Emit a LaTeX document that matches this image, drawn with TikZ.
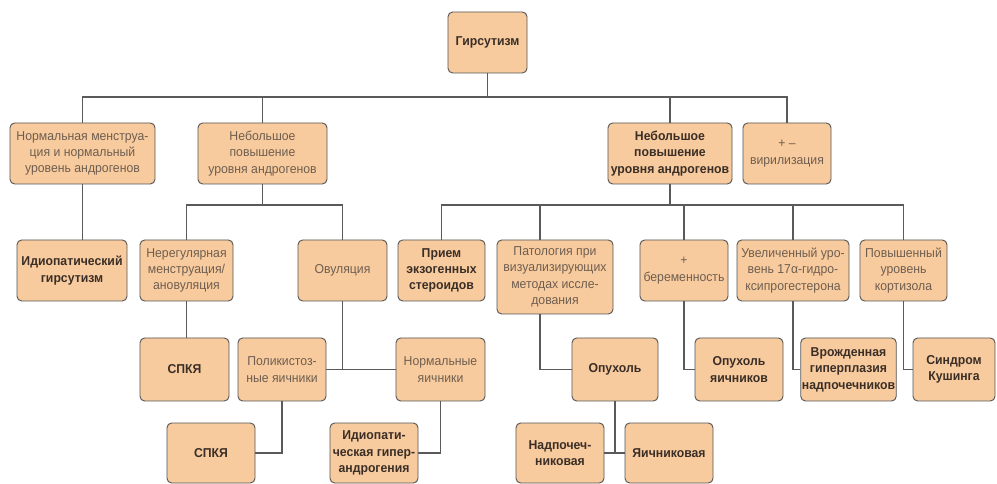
\documentclass[tikz,border=0pt]{standalone}
\usepackage{fontspec}
\setmainfont[FakeStretch=0.95]{Liberation Sans}
\usepackage{xcolor}
\usetikzlibrary{positioning}

\definecolor{boxfill}{HTML}{F8CB9E}
\definecolor{boxline}{HTML}{555555}
\definecolor{linkline}{HTML}{5A5A5A}
\definecolor{textsoft}{HTML}{6E5E50}
\definecolor{texthard}{HTML}{3A2E26}

\begin{document}
\begin{tikzpicture}[
  x=0.03cm, y=-0.03cm,
  crit/.style 2 args={rectangle, draw=boxline, line width=0.8pt, rounded corners=4pt,
    fill=boxfill, align=center, inner sep=1pt, text=textsoft,
    font=\fontsize{11}{14}\selectfont,
    minimum width=#1*0.03cm, minimum height=#2*0.03cm},
  diag/.style 2 args={crit={#1}{#2}, text=texthard,
    font=\fontsize{11}{14}\selectfont\bfseries},
  link/.style={draw=linkline, line width=1.3pt}
]
  \useasboundingbox (0,0) rectangle (997,484);

  \node[diag={79}{61}] (root) at (487.5,42.5) {Гирсутизм};

  \node[crit={145}{61}] (norma) at (82.5,153.5) {Нормальная менструа-\\ция и нормальный\\уровень андрогенов};
  \node[crit={129}{61}] (lowup) at (262.5,153.5) {Небольшое\\повышение\\уровня андрогенов};
  \node[diag={124}{61}] (highup) at (670,153.5) {Небольшое\\повышение\\уровня андрогенов};
  \node[crit={88}{61}] (viril) at (787,153.5) {+ –\\вирилизация};

  \node[diag={110}{61}] (idhirs) at (72,270.5) {Идиопатический\\гирсутизм};
  \node[crit={93}{61}] (anov) at (186.5,270.5) {Нерегулярная\\менструация/\\ановуляция};
  \node[crit={89}{61}] (ovul) at (342.5,270.5) {Овуляция};
  \node[diag={87}{61}] (steroid) at (441.5,270.5) {Прием\\экзогенных\\стероидов};
  \node[crit={116}{74}] (imaging) at (555,277) {Патология при\\визуализирующих\\методах иссле-\\дования};
  \node[crit={88}{61}] (pregn) at (684,270.5) {+\\беременность};
  \node[crit={112}{61}] (ohp) at (793,270.5) {Увеличенный уро-\\вень 17α-гидро-\\ксипрогестерона};
  \node[crit={87}{61}] (cortis) at (903.5,270.5) {Повышенный\\уровень\\кортизола};

  \node[diag={89}{63}] (pcos1) at (184.5,369.5) {СПКЯ};
  \node[crit={88}{63}] (polyov) at (282,369.5) {Поликистоз-\\ные яичники};
  \node[crit={89}{63}] (normov) at (440.5,369.5) {Нормальные\\яичники};
  \node[diag={86}{63}] (tumor) at (615,369.5) {Опухоль};
  \node[diag={88}{63}] (ovtumor) at (739,369.5) {Опухоль\\яичников};
  \node[diag={93}{63}] (cah) at (848.5,369.5) {Врожденная\\гиперплазия\\надпочечников};
  \node[diag={82}{63}] (cushing) at (954,369.5) {Синдром\\Кушинга};

  \node[diag={88}{60}] (pcos2) at (211,453) {СПКЯ};
  \node[diag={88}{60}] (idhyper) at (374,453) {Идиопати-\\ческая гипер-\\андрогения};
  \node[diag={88}{60}] (adrenal) at (560,453) {Надпочеч-\\никовая};
  \node[diag={88}{60}] (ovarian) at (669,453) {Яичниковая};

  \coordinate (bus0) at (487.5,97);
  \coordinate (bus1) at (262.5,205);
  \coordinate (bus2) at (670,205);
  \coordinate (bus2a) at (540,205);

  \draw[link] (root.south) -- (bus0);
  \draw[link] (norma.north) |- (bus0) -| (viril.north);
  \draw[link] (lowup.north) -- (lowup.north |- bus0);
  \draw[link] (highup.north) -- (highup.north |- bus0);

  \draw[link] (norma.south) -- (norma.south |- idhirs.north);
  \draw[link] (lowup.south) -- (bus1);
  \draw[link] (anov.north) |- (bus1) -| (ovul.north);

  \draw[link] (highup.south) -- (bus2);
  \draw[link] (steroid.north) |- (bus2) -| (cortis.north);
  \draw[link] (bus2a) -- (bus2a |- imaging.north);
  \draw[link] (pregn.north) -- (pregn.north |- bus2);
  \draw[link] (ohp.north) -- (ohp.north |- bus2);

  \draw[link] (anov.south) -- (anov.south |- pcos1.north);
  \draw[link] (ovul.south) -- (ovul.south |- polyov.east);
  \draw[link] (polyov.east) -- (normov.west);
  \draw[link] (bus2a |- imaging.south) |- (tumor.west);
  \draw[link] (pregn.south) |- (ovtumor.west);
  \draw[link] (ohp.south) |- (cah.west);
  \draw[link] (cortis.south) |- (cushing.west);

  \draw[link] (polyov.south) |- (pcos2.east);
  \draw[link] (normov.south) |- (idhyper.east);
  \draw[link] (tumor.south) -- (tumor.south |- adrenal.east);
  \draw[link] (adrenal.east) -- (ovarian.west);
\end{tikzpicture}
\end{document}
